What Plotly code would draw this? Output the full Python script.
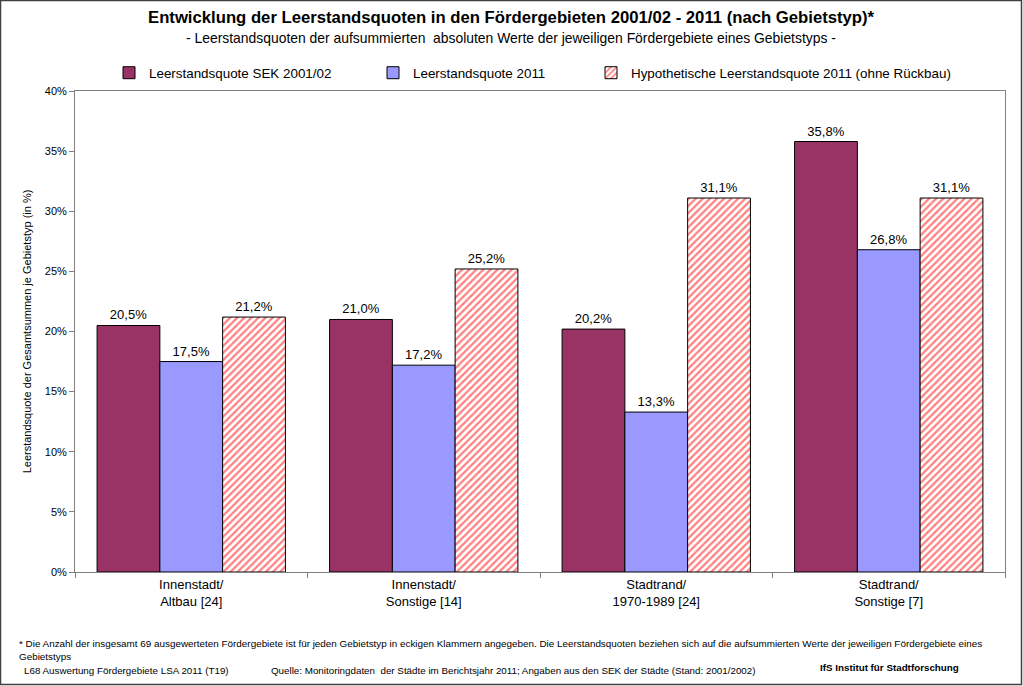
import plotly.graph_objects as go

categories = ["Innenstadt/<br>Altbau [24]", "Innenstadt/<br>Sonstige [14]",
              "Stadtrand/<br>1970-1989 [24]", "Stadtrand/<br>Sonstige [7]"]
sek_2001 = [0.205, 0.210, 0.202, 0.358]
quote_2011 = [0.175, 0.172, 0.133, 0.268]
hypo_2011 = [0.212, 0.252, 0.311, 0.311]
series_names = ["Leerstandsquote SEK 2001/02", "Leerstandsquote 2011",
                "Hypothetische Leerstandsquote 2011 (ohne Rückbau)"]
y_ticks = [0, 0.05, 0.10, 0.15, 0.20, 0.25, 0.30, 0.35, 0.40]

W, H = 1023, 686
L, R, T, B = 75, 1005, 91, 572
FONT = "Arial, Liberation Sans, sans-serif"

def px(x):
    return (x - L) / (R - L)

def py(y):
    return (B - y) / (B - T)

fig = go.Figure()
fig.add_trace(go.Bar(x=categories, y=sek_2001, name=series_names[0], showlegend=True,
                     marker=dict(color="#993366", line=dict(color="#000000", width=1)),
                     texttemplate="%{y:.1%}", textposition="outside", legend="legend"))
fig.add_trace(go.Bar(x=categories, y=quote_2011, name=series_names[1], showlegend=True,
                     marker=dict(color="#9999FF", line=dict(color="#000000", width=1)),
                     texttemplate="%{y:.1%}", textposition="outside", legend="legend2"))
fig.add_trace(go.Bar(x=categories, y=hypo_2011, name=series_names[2], showlegend=True,
                     marker=dict(color="#FFFFFF", line=dict(color="#000000", width=1),
                                 pattern=dict(shape="/", fgcolor="#FF0000", bgcolor="#FFFFFF",
                                              size=5, solidity=0.45)),
                     texttemplate="%{y:.1%}", textposition="outside", legend="legend3"))

fig.update_traces(textfont=dict(family=FONT, size=13, color="#000000"), cliponaxis=False)

leg_common = dict(orientation="h", yanchor="middle", xanchor="left",
                  font=dict(family=FONT, size=13.4, color="#000000"),
                  bgcolor="rgba(0,0,0,0)", itemwidth=30)

fig.update_layout(
    width=W, height=H,
    showlegend=True,
    margin=dict(l=L, r=W - R, t=T, b=H - B),
    paper_bgcolor="#FFFFFF", plot_bgcolor="#FFFFFF",
    separators=",.",
    barmode="group", bargap=0.19, bargroupgap=0,
    font=dict(family=FONT, color="#000000"),
    legend=dict(x=px(109), y=py(73), **leg_common),
    legend2=dict(x=px(373), y=py(73), **leg_common),
    legend3=dict(x=px(591), y=py(73), **leg_common),
    xaxis=dict(showline=True, linecolor="#808080", linewidth=1, mirror=True,
               ticks="outside", ticklen=5, tickcolor="#808080", tickson="boundaries",
               tickfont=dict(family=FONT, size=13, color="#000000")),
    yaxis=dict(range=[0, 0.40], tickvals=y_ticks, tickformat=".0%",
               showline=True, linecolor="#808080", linewidth=1, mirror=True,
               ticks="outside", ticklen=5, tickcolor="#808080", showgrid=False,
               zeroline=False,
               tickfont=dict(family=FONT, size=11, color="#000000"),
               title=dict(text="Leerstandsquote der Gesamtsummen je Gebietstyp (in %)",
                          font=dict(family=FONT, size=11, color="#000000"), standoff=10)),
)

annotations = [
    dict(text="<b>Entwicklung der Leerstandsquoten in den Fördergebieten 2001/02 - 2011 (nach Gebietstyp)*</b>",
         x=px(511), y=py(17), font=dict(size=16.7)),
    dict(text="- Leerstandsquoten der aufsummierten  absoluten Werte der jeweiligen Fördergebiete eines Gebietstyps -",
         x=px(511), y=py(38), font=dict(size=13.9)),
    dict(text="* Die Anzahl der insgesamt 69 ausgewerteten Fördergebiete ist für jeden Gebietstyp in eckigen Klammern angegeben. Die Leerstandsquoten beziehen sich auf die aufsummierten Werte der jeweiligen Fördergebiete eines<br>Gebietstyps",
         x=px(17), y=py(649.5), xanchor="left", align="left", font=dict(size=9.9)),
    dict(text="L68 Auswertung Fördergebiete LSA 2011 (T19)",
         x=px(22), y=py(670), xanchor="left", font=dict(size=9.8)),
    dict(text="Quelle: Monitoringdaten  der Städte im Berichtsjahr 2011; Angaben aus den SEK der Städte (Stand: 2001/2002)",
         x=px(269), y=py(670), xanchor="left", font=dict(size=9.8)),
    dict(text="<b>IfS Institut für Stadtforschung</b>",
         x=px(818), y=py(667), xanchor="left", font=dict(size=9.8)),
]
for a in annotations:
    a.setdefault("xanchor", "center")
    fig.add_annotation(xref="paper", yref="paper", yanchor="middle", showarrow=False,
                       **{k: v for k, v in a.items() if k != "font"},
                       font=dict(family=FONT, color="#000000", **a["font"]))

fig.add_shape(type="rect", xref="paper", yref="paper",
              x0=px(0.5), x1=px(W - 1.5), y0=py(0.5), y1=py(H - 1.5),
              line=dict(color="#404040", width=1.5))

fig.write_html("out.html")
